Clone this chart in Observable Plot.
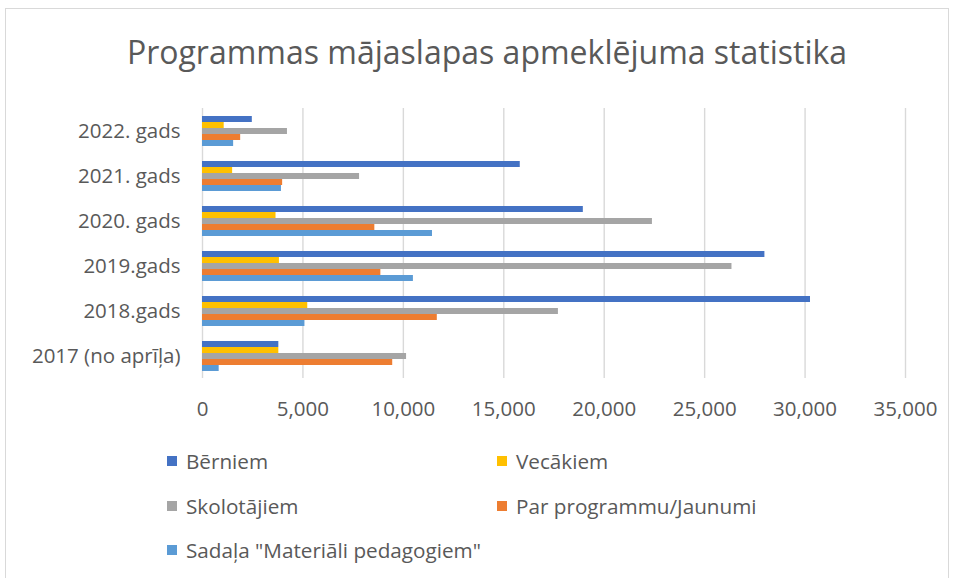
<!DOCTYPE html>
<html>
<head>
<meta charset="utf-8">
<script src="https://cdn.jsdelivr.net/npm/d3@7"></script>
<script src="https://cdn.jsdelivr.net/npm/@observablehq/plot@0.6"></script>
<style>
  html, body { margin: 0; padding: 0; background: #fff; }
  #wrap { position: relative; width: 954px; height: 578px; overflow: hidden; font-family: "Open Sans", sans-serif; color: #595959; }
  #frame { position: absolute; left: 5px; top: 8px; width: 944px; height: 600px; border: 1px solid #d9d9d9; box-sizing: border-box; }
  #title { position: absolute; left: 0; width: 974px; top: 30px; text-align: center; font-size: 32px; line-height: 44px; color: #595959; white-space: nowrap; }
  #chart { position: absolute; left: 0; top: 0; }
  .lg { position: absolute; font-size: 20.7px; line-height: 24px; white-space: nowrap; color: #595959; }
  .lg span.sw { position: absolute; left: 0; top: 7px; width: 10px; height: 10px; }
  .lg span.tx { position: absolute; left: 19px; top: 0; }
</style>
</head>
<body>
<div id="wrap">
  <div id="frame"></div>
  <div id="chart"></div>
  <div id="title">Programmas mājaslapas apmeklējuma statistika</div>
  <div id="legend"></div>
</div>
<script>
const years = ["2022. gads", "2021. gads", "2020. gads", "2019.gads", "2018.gads", "2017 (no aprīļa)"];
const series = ["Bērniem", "Vecākiem", "Skolotājiem", "Par programmu/Jaunumi", "Sadaļa \"Materiāli pedagogiem\""];
const colors = ["#4472C4", "#FFC000", "#A5A5A5", "#ED7D31", "#5B9BD5"];
const berniem     = [2480, 15820, 18960, 28000, 30270, 3800];
const vecakiem    = [1080, 1500, 3660, 3830, 5240, 3800];
const skolotajiem = [4230, 7820, 22400, 26360, 17720, 10160];
const parProgr    = [1900, 3990, 8580, 8880, 11690, 9470];
const sadala      = [1550, 3930, 11450, 10500, 5100, 830];
const xTicks = [0, 5000, 10000, 15000, 20000, 25000, 30000, 35000];

const valuesBySeries = [berniem, vecakiem, skolotajiem, parProgr, sadala];
const data = [];
years.forEach((y, i) => {
  series.forEach((s, j) => {
    data.push({year: y, series: s, value: valuesBySeries[j][i]});
  });
});

const plot = Plot.plot({
  width: 954,
  height: 430,
  marginLeft: 202,
  marginRight: 49,
  marginTop: 108,
  marginBottom: 52,
  style: {background: "transparent", fontFamily: "Open Sans, sans-serif", fontSize: "20.5px", color: "#595959"},
  x: {domain: [0, 35000], ticks: xTicks, tickFormat: d3.format(","), tickSize: 0, tickPadding: 23, label: null},
  y: {domain: series, axis: null, paddingInner: 0, paddingOuter: 0.91},
  fy: {domain: years, padding: 0, axis: "left", label: null, tickSize: 0, tickPadding: 22},
  color: {domain: series, range: colors},
  marks: [
    Plot.gridX(xTicks, {stroke: "#d9d9d9", strokeOpacity: 1, strokeWidth: 1.4}),
    Plot.barX(data, {x: "value", y: "series", fy: "year", fill: "series"})
  ]
});
document.getElementById("chart").appendChild(plot);

const legendPos = [[167, 449], [497, 449], [167, 494], [497, 494], [167, 538]];
const legend = document.getElementById("legend");
series.forEach((s, i) => {
  const d = document.createElement("div");
  d.className = "lg";
  d.style.left = legendPos[i][0] + "px";
  d.style.top = legendPos[i][1] + "px";
  const sw = document.createElement("span");
  sw.className = "sw";
  sw.style.background = colors[i];
  const tx = document.createElement("span");
  tx.className = "tx";
  tx.textContent = s;
  d.appendChild(sw); d.appendChild(tx);
  legend.appendChild(d);
});
</script>
</body>
</html>
